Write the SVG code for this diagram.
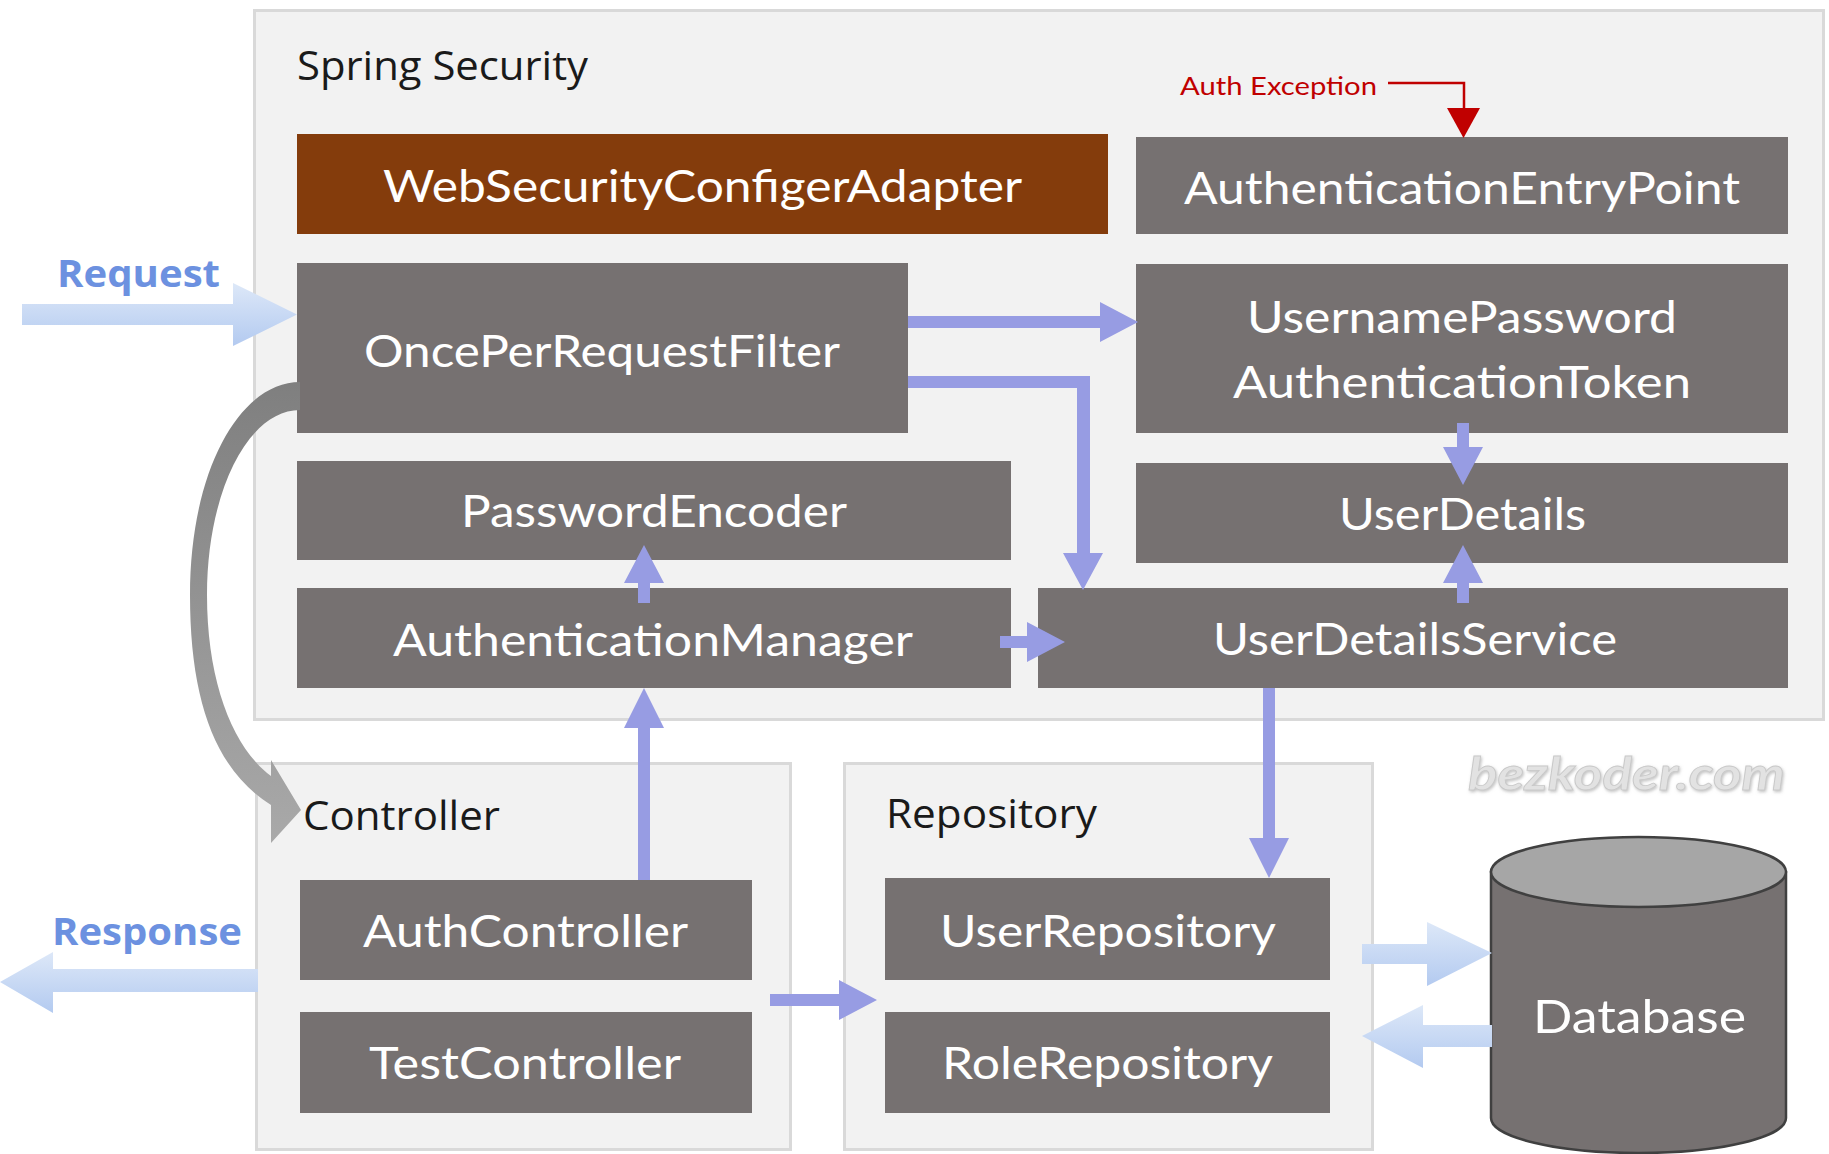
<svg xmlns="http://www.w3.org/2000/svg" width="1829" height="1154" viewBox="0 0 1829 1154">
  <style>
    .container { fill: #f2f2f2; stroke: #d9d9d9; stroke-width: 3; }
    .box { fill: #767171; }
    .box-accent { fill: #843c0c; }
    .label { font-family: Lato, "Liberation Sans", sans-serif; font-size: 44px; fill: #ffffff; }
    .title { font-family: "Open Sans", "Liberation Sans", sans-serif; font-size: 41px; fill: #1a1a1a; }
    .io { font-family: "Open Sans", "Liberation Sans", sans-serif; font-size: 37px; font-weight: bold; fill: #6c91e0; }
    .flow { fill: #979ce3; }
    .io-arrow { fill: url(#ioGrad); }
    .exc { font-family: Lato, "Liberation Sans", sans-serif; font-size: 25px; fill: #c00000; }
    .watermark { font-family: Lato, "Liberation Sans", sans-serif; font-size: 46px; font-style: italic; font-weight: bold; fill: #e2e2e2; stroke: #c9c9c9; stroke-width: 0.8; }
  </style>
  <defs>
    <linearGradient id="ioGrad" x1="0" y1="0" x2="0" y2="1">
      <stop offset="0" stop-color="#dde8f8"/>
      <stop offset="1" stop-color="#b3caf0"/>
    </linearGradient>
    <linearGradient id="curveGrad" gradientUnits="userSpaceOnUse" x1="0" y1="382" x2="0" y2="843">
      <stop offset="0" stop-color="#7f7f7f"/>
      <stop offset="1" stop-color="#a9a9a9"/>
    </linearGradient>
    <filter id="softShadow" x="-10%" y="-30%" width="120%" height="160%">
      <feDropShadow dx="1" dy="1.5" stdDeviation="1.5" flood-color="#9a9a9a" flood-opacity="0.6"/>
    </filter>
  </defs>

  <rect width="1829" height="1154" fill="#ffffff"/>

  <!-- layer containers -->
  <g id="spring-security">
    <rect class="container" x="254.5" y="10.5" width="1569" height="709"/>
    <text class="title" x="297" y="80" textLength="291" lengthAdjust="spacingAndGlyphs">Spring Security</text>
  </g>
  <g id="controller-layer">
    <rect class="container" x="256.5" y="763.5" width="534" height="386"/>
    <text class="title" x="303" y="830" textLength="197" lengthAdjust="spacingAndGlyphs">Controller</text>
  </g>
  <g id="repository-layer">
    <rect class="container" x="844.5" y="763.5" width="528" height="386"/>
    <text class="title" x="886" y="828" textLength="211" lengthAdjust="spacingAndGlyphs">Repository</text>
  </g>

  <!-- security components -->
  <g id="web-security-configurer-adapter">
    <rect class="box-accent" x="297" y="134" width="811" height="100"/>
    <text class="label" x="383" y="202" textLength="639" lengthAdjust="spacingAndGlyphs">WebSecurityConfigerAdapter</text>
  </g>
  <g id="authentication-entry-point">
    <rect class="box" x="1136" y="137" width="652" height="97"/>
    <text class="label" x="1184" y="204" textLength="556" lengthAdjust="spacingAndGlyphs">AuthenticationEntryPoint</text>
  </g>
  <g id="once-per-request-filter">
    <rect class="box" x="297" y="263" width="611" height="170"/>
    <text class="label" x="364" y="367" textLength="476" lengthAdjust="spacingAndGlyphs">OncePerRequestFilter</text>
  </g>
  <g id="username-password-authentication-token">
    <rect class="box" x="1136" y="264" width="652" height="169"/>
    <text class="label" x="1247" y="333" textLength="430" lengthAdjust="spacingAndGlyphs">UsernamePassword</text>
    <text class="label" x="1233" y="398" textLength="458" lengthAdjust="spacingAndGlyphs">AuthenticationToken</text>
  </g>
  <g id="password-encoder">
    <rect class="box" x="297" y="461" width="714" height="99"/>
    <text class="label" x="461" y="527" textLength="386" lengthAdjust="spacingAndGlyphs">PasswordEncoder</text>
  </g>
  <g id="user-details">
    <rect class="box" x="1136" y="463" width="652" height="100"/>
    <text class="label" x="1339" y="530" textLength="247" lengthAdjust="spacingAndGlyphs">UserDetails</text>
  </g>
  <g id="authentication-manager">
    <rect class="box" x="297" y="588" width="714" height="100"/>
    <text class="label" x="393" y="656" textLength="520" lengthAdjust="spacingAndGlyphs">AuthenticationManager</text>
  </g>
  <g id="user-details-service">
    <rect class="box" x="1038" y="588" width="750" height="100"/>
    <text class="label" x="1213" y="655" textLength="404" lengthAdjust="spacingAndGlyphs">UserDetailsService</text>
  </g>

  <!-- controllers -->
  <g id="auth-controller">
    <rect class="box" x="300" y="880" width="452" height="100"/>
    <text class="label" x="363" y="947" textLength="325" lengthAdjust="spacingAndGlyphs">AuthController</text>
  </g>
  <g id="test-controller">
    <rect class="box" x="300" y="1012" width="452" height="101"/>
    <text class="label" x="369" y="1079" textLength="312" lengthAdjust="spacingAndGlyphs">TestController</text>
  </g>

  <!-- repositories -->
  <g id="user-repository">
    <rect class="box" x="885" y="878" width="445" height="102"/>
    <text class="label" x="940" y="947" textLength="336" lengthAdjust="spacingAndGlyphs">UserRepository</text>
  </g>
  <g id="role-repository">
    <rect class="box" x="885" y="1012" width="445" height="101"/>
    <text class="label" x="942" y="1079" textLength="331" lengthAdjust="spacingAndGlyphs">RoleRepository</text>
  </g>

  <!-- database cylinder -->
  <g id="database">
    <path d="M1491,872 L1491,1118 A147.5,35 0 0 0 1786,1118 L1786,872 Z" fill="#767171" stroke="#404040" stroke-width="2.5"/>
    <ellipse cx="1638.5" cy="872" rx="147.5" ry="35" fill="#a6a6a6" stroke="#404040" stroke-width="2.5"/>
    <text class="label" x="1533" y="1033" textLength="213" lengthAdjust="spacingAndGlyphs" style="font-size:47px">Database</text>
  </g>

  <!-- request / response labels -->
  <g id="request">
    <text class="io" x="57" y="287" textLength="163" lengthAdjust="spacingAndGlyphs">Request</text>
  </g>
  <g id="response">
    <text class="io" x="52" y="945" textLength="190" lengthAdjust="spacingAndGlyphs">Response</text>
  </g>

  <!-- site mark -->
  <text class="watermark" x="1468" y="790" textLength="317" lengthAdjust="spacingAndGlyphs" filter="url(#softShadow)">bezkoder.com</text>

  <!-- connectors -->
  <g id="connectors">
    <!-- incoming request -->
    <polygon class="io-arrow" points="22,304 233,304 233,283 297,314.5 233,346 233,325 22,325"/>
    <!-- outgoing response -->
    <polygon class="io-arrow" points="258,969 53,969 53,952 0,982 53,1013 53,992 258,992"/>
    <!-- repository to database -->
    <polygon class="io-arrow" points="1362,944 1427,944 1427,922 1492,953 1427,986 1427,964 1362,964"/>
    <!-- database to repository -->
    <polygon class="io-arrow" points="1492,1025 1423,1025 1423,1005 1362,1036 1423,1068 1423,1047 1492,1047"/>

    <!-- filter hands the request over to the controllers -->
    <path d="M300,382 C240,382 190,470 190,595 C190,700 215,770 271,805 L271,843 L301,810 L271,760 L271,776 C233,748 207,682 207,595 C207,492 248,410 300,410 Z" fill="url(#curveGrad)"/>

    <!-- filter to authentication token -->
    <polygon class="flow" points="908,316 1100,316 1100,302 1138,322 1100,342 1100,328 908,328"/>
    <!-- filter to user details service -->
    <polygon class="flow" points="908,376 1090,376 1090,553 1103,553 1083,590 1063,553 1077,553 1077,388 908,388"/>
    <!-- token to user details -->
    <polygon class="flow" points="1457,423 1469,423 1469,447 1483,447 1463,485 1443,447 1457,447"/>
    <!-- user details service to user details -->
    <polygon class="flow" points="1457,603 1469,603 1469,583 1483,583 1463,545 1443,583 1457,583"/>
    <!-- authentication manager to password encoder -->
    <polygon class="flow" points="638,603 650,603 650,583 664,583 644,545 624,583 638,583"/>
    <!-- auth controller to authentication manager -->
    <polygon class="flow" points="638,880 650,880 650,728 664,728 644,688 624,728 638,728"/>
    <!-- authentication manager to user details service -->
    <polygon class="flow" points="1000,636 1027,636 1027,622 1065,642 1027,662 1027,648 1000,648"/>
    <!-- user details service to user repository -->
    <polygon class="flow" points="1263,688 1275,688 1275,838 1289,838 1269,878 1249,838 1263,838"/>
    <!-- controllers to repositories -->
    <polygon class="flow" points="770,994 839,994 839,980 877,1000 839,1020 839,1006 770,1006"/>

    <!-- authentication exception -->
    <g id="auth-exception">
      <text class="exc" x="1180" y="95" textLength="197" lengthAdjust="spacingAndGlyphs">Auth Exception</text>
      <polyline points="1388,83 1464,83 1464,110" fill="none" stroke="#c00000" stroke-width="2.5"/>
      <polygon points="1447,108 1480,108 1463.5,138" fill="#c00000"/>
    </g>
  </g>
</svg>
